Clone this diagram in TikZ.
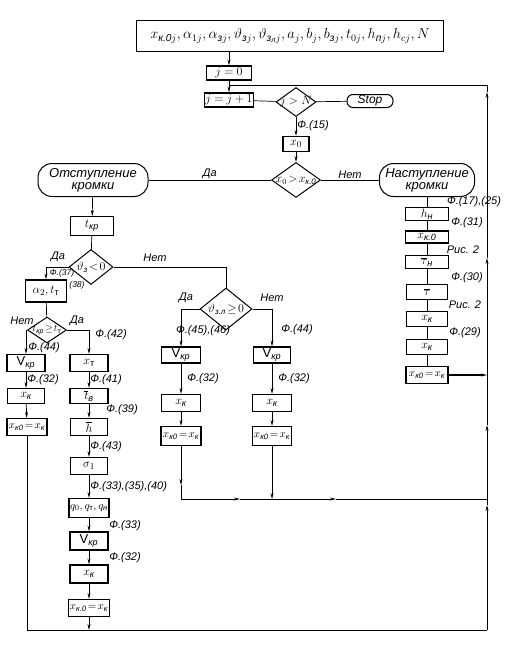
\documentclass[tikz,border=0pt]{standalone}
\usepackage{amsmath}
\usepackage{fontspec}
\setmainfont{Liberation Sans}
\usetikzlibrary{arrows.meta,shapes.geometric,positioning}
\newcommand\ru[1]{\text{\itshape #1}}
\newcommand\rt{\text{т}}

\tikzset{
  box/.style={draw, line width=1.1pt, minimum height=15pt, inner sep=1pt, font=\fontsize{13}{15}\selectfont},
  eqbox/.style={box, font=\fontsize{11}{13}\selectfont},
  term/.style={draw, line width=1pt, rounded corners=14pt, minimum height=33pt, align=center, inner sep=2pt, font=\fontsize{13}{12}\selectfont\itshape},
  dec/.style={draw, diamond, line width=1pt, inner sep=0pt, label distance=0pt},
  dtext/.style={font=\fontsize{12}{14}\selectfont},
  lbl/.style={font=\fontsize{11}{13}\selectfont\itshape, inner sep=1pt},
  line/.style={line width=.7pt},
  arr/.style={line, -{Stealth[length=6pt,width=3pt]}},
}

\begin{document}
\begin{tikzpicture}[x=1pt, y=-1pt]
\useasboundingbox (0,0) rectangle (510,645);

% start
\node[box, minimum width=307pt, minimum height=31pt, font=\fontsize{14.5}{16}\selectfont] (in) at (290,36)
  {$x_{\ru{к.0}j},\alpha_{1j},\alpha_{\ru{з}j},\vartheta_{\ru{з}j},\vartheta_{\ru{з}_{\ru{л}}j},a_j,b_j,b_{\ru{з}j},t_{0j},h_{\ru{п}j},h_{cj},N$};
\node[box, minimum width=45pt, minimum height=14pt] (j0) at (229,73) {$j=0$};
\node[box, minimum width=44pt, minimum height=14pt] (jj) at (229,100) {$j=j+1$};
\node[dec, minimum width=40pt, minimum height=29pt, label={[dtext]center:$j>N$}] (jN) at (296,102) {};
\node[draw, line width=1pt, rounded corners=6pt, minimum width=46pt, minimum height=13pt, inner sep=1pt, font=\fontsize{12}{14}\selectfont\itshape] (stop) at (370,101) {Stop};
\node[box, minimum width=26pt] (x0) at (296,144) {$x_0$};
\node[dec, minimum width=49pt, minimum height=35pt, label={[dtext]center:{$x_0\!>\!x_{\ru{к.0}}$}}] (cmp) at (296,180) {};
\node[term, minimum width=110pt] (otst) at (93,180) {Отступление\\кромки};
\node[term, minimum width=95pt] (nast) at (427,180) {Наступление\\кромки};

% retreat, left part
\node[box, minimum width=43pt, minimum height=19pt] (tkr) at (92,226) {$t_{\ru{кр}}$};
\node[dec, minimum width=44pt, minimum height=35pt, label={[dtext]center:$\vartheta_{\ru{з}}\!<\!0$}] (d1) at (91,267) {};
\node[box, minimum width=41pt, minimum height=22pt] (a2) at (46,291) {$\alpha_2,t_{\rt}$};
\node[dec, minimum width=39pt, minimum height=26pt, label={[font=\fontsize{10}{12}\selectfont]center:{$t_{\ru{кр}}\!\geq\! t_{\rt}$}}] (d2) at (47,330) {};

\node[box, minimum width=38pt, minimum height=17pt] (vk1) at (26,363) {$\mathrm{V}_{\ru{кр}}$};
\node[box, minimum width=37pt] (xk1) at (26,396) {$x_{\ru{к}}$};
\node[eqbox, minimum width=40pt, minimum height=17pt] (xe1) at (27,427) {$x_{\ru{к0}}\!=\!x_{\ru{к}}$};

\node[box, minimum width=38pt, minimum height=17pt] (xt) at (89,363) {$x_{\rt}$};
\node[box, minimum width=38pt] (tb) at (89,396) {$\overline{t}_{\ru{в}}$};
\node[box, minimum width=37pt, minimum height=17pt] (hb) at (89,427) {$\overline{h}$};
\node[box, minimum width=37pt, minimum height=17pt] (sg) at (89,466) {$\sigma_1$};
\node[eqbox, minimum width=38pt, minimum height=19pt] (q) at (89,508) {$q_0,q_{\rt},q_{\ru{н}}$};
\node[box, minimum width=38pt, minimum height=18pt] (vk2) at (89,541) {$\mathrm{V}_{\ru{кр}}$};
\node[box, minimum width=38pt, minimum height=18pt] (xk2) at (89,574) {$x_{\ru{к}}$};
\node[eqbox, minimum width=40pt, minimum height=17pt] (xe2) at (89,608) {$x_{\ru{к.0}}\!=\!x_{\ru{к}}$};

% retreat, middle part
\node[dec, minimum width=52pt, minimum height=42pt, label={[dtext]center:{$\vartheta_{\ru{з.л}}\!\geq\!0$}}] (d3) at (226,309) {};
\node[box, minimum width=39pt, minimum height=16pt] (vk3) at (181,355) {$\mathrm{V}_{\ru{кр}}$};
\node[box, minimum width=39pt, minimum height=17pt] (xk3) at (181,403) {$x_{\ru{к}}$};
\node[eqbox, minimum width=40pt, minimum height=19pt] (xe3) at (181,436) {$x_{\ru{к0}}\!=\!x_{\ru{к}}$};
\node[box, minimum width=37pt, minimum height=16pt] (vk4) at (272,355) {$\mathrm{V}_{\ru{кр}}$};
\node[box, minimum width=39pt, minimum height=17pt] (xk4) at (272,403) {$x_{\ru{к}}$};
\node[eqbox, minimum width=39pt, minimum height=19pt] (xe4) at (272,436) {$x_{\ru{к0}}\!=\!x_{\ru{к}}$};

% advance, right column
\node[box, minimum width=43pt, minimum height=12pt] (hn) at (427,214) {$h_{\ru{н}}$};
\node[box, minimum width=43pt, minimum height=12pt] (xko) at (427,237) {$x_{\ru{к.0}}$};
\node[box, minimum width=43pt, minimum height=13pt] (tn) at (427,262) {$\overline{\tau}_{\ru{н}}$};
\node[box, minimum width=41pt, minimum height=15pt] (tau) at (427,292) {$\overline{\tau}$};
\node[box, minimum width=41pt, minimum height=15pt] (xk5) at (427,319) {$x_{\ru{к}}$};
\node[box, minimum width=41pt, minimum height=15pt] (xk6) at (427,347) {$x_{\ru{к}}$};
\node[eqbox, minimum width=42pt, minimum height=17pt] (xe5) at (427,375) {$x_{\ru{к0}}\!=\!x_{\ru{к}}$};

% loop coordinates
\coordinate (rb) at (487,630);
\coordinate (ua) at (487,505);
\coordinate (rm) at (487,499);
\coordinate (ub) at (487,425);
\coordinate (rx) at (487,375);
\coordinate (uc) at (487,258);
\coordinate (ud) at (487,92);
\coordinate (rt) at (487,85);
\coordinate (jt) at (229,85);
\coordinate (md) at (181,485);
\coordinate (ma) at (240,499);
\coordinate (mb) at (336,499);

% top connectors
\draw[arr] (in.south -| j0) -- (j0);
\draw[arr] (j0) -- (jj);
\draw[line] (jj) -- (jN);
\draw[line] (jN) -- (stop);
\draw[arr] (jN) -- node[lbl, right, pos=.45] (f15) {Ф.(15)} (x0);
\draw[arr] (x0) -- (cmp);
\draw[line] (cmp) -- node[lbl, above] (yes0) {Да} (otst);
\draw[line] (cmp) -- node[lbl, above] (no0) {Нет} (nast);

% retreat connectors
\draw[arr] (otst) -- (tkr);
\draw[line] (tkr) -- (d1);
\draw[arr] (d1.west) -| (a2.north);
\node[lbl] (yes1) at (58,257) {Да};
\node[lbl, font=\fontsize{8.5}{10}\selectfont\itshape] (f37) at (62,273) {Ф.(37)};
\node[lbl, font=\fontsize{8.5}{10}\selectfont\itshape] (f38) at (77,285) {(38)};
\draw[line] (d1.east) -| (d3.north);
\node[lbl] (no1) at (155,258) {Нет};
\draw[line] (a2) -- (d2);
\draw[arr] (d2.west) -| (vk1.north);
\draw[arr] (d2.east) -| (xt.north);
\node[lbl] (no2) at (22,321) {Нет};
\node[lbl] (yes2) at (77,321) {Да};
\node[lbl] (f44a) at (44,348) {Ф.(44)};
\node[lbl] (f42) at (111,335) {Ф.(42)};

\draw[arr] (vk1) -- node[lbl, right] (f32a) {Ф.(32)} (xk1);
\draw[arr] (xk1) -- (xe1);
\draw[line] (xe1.south) -- (xe1.south |- rb) -- (rb);

\draw[arr] (xt) -- node[lbl, right] (f41) {Ф.(41)} (tb);
\draw[arr] (tb) -- (hb);
\node[lbl] (f39) at (122,410) {Ф.(39)};
\draw[arr] (hb) -- node[lbl, right] (f43) {Ф.(43)} (sg);
\draw[arr] (sg) -- node[lbl, right] (f40) {Ф.(33),(35),(40)} (q);
\draw[arr] (q) -- (vk2);
\node[lbl] (f33) at (125,526) {Ф.(33)};
\draw[arr] (vk2) -- (xk2);
\node[lbl] (f32b) at (125,558) {Ф.(32)};
\draw[arr] (xk2) -- (xe2);
\draw[arr] (xe2) -- (xe2 |- rb);

\draw[arr] (d3.west) -| (vk3.north);
\draw[arr] (d3.east) -| (vk4.north);
\node[lbl] (yes3) at (186,298) {Да};
\node[lbl] (no3) at (272,298) {Нет};
\node[lbl] (f45) at (203,331) {Ф.(45),(46)};
\node[lbl] (f44b) at (297,330) {Ф.(44)};
\draw[arr] (vk3) -- node[lbl, right=5pt] (f32c) {Ф.(32)} (xk3);
\draw[arr] (xk3) -- (xe3);
\draw[arr] (vk4) -- node[lbl, right=5pt] (f32d) {Ф.(32)} (xk4);
\draw[arr] (xk4) -- (xe4);
\draw[arr] (xe3) -- (md);
\draw[line] (md) -- (xe3 |- rm);
\draw[arr] (xe3 |- rm) -- (ma);
\draw[arr] (ma) -- (mb);
\draw[line] (mb) -- (rm);
\draw[arr] (xe4) -- (xe4 |- rm);

% advance connectors
\draw[line] (nast) -- (hn);
\draw[line] (hn) -- (xko);
\draw[line] (xko) -- (tn);
\draw[line] (tn) -- (tau);
\draw[line] (tau) -- (xk5);
\draw[line] (xk5) -- (xk6);
\draw[line] (xk6) -- (xe5);
\node[lbl] (f17) at (474,202) {Ф.(17),(25)};
\node[lbl] (f31) at (467,223) {Ф.(31)};
\node[lbl] (r2a) at (463,250) {Рис. 2};
\node[lbl] (f30) at (467,278) {Ф.(30)};
\node[lbl] (r2b) at (465,305) {Рис. 2};
\node[lbl] (f29) at (465,333) {Ф.(29)};
\draw[arr, line width=1.1pt] (xe5) -- (rx);

% return line
\draw[arr] (rb) -- (ua);
\draw[line] (ua) -- (rm);
\draw[arr] (rm) -- (ub);
\draw[line] (ub) -- (rx);
\draw[arr] (rx) -- (uc);
\draw[arr] (uc) -- (ud);
\draw[line] (ud) -- (rt) -- (jt);
\end{tikzpicture}
\end{document}
